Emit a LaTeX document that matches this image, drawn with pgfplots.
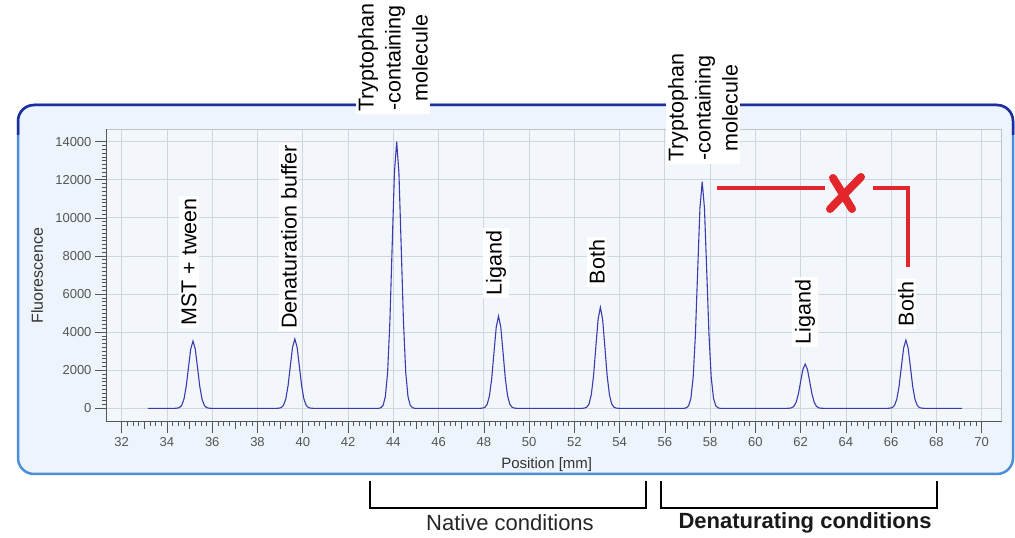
\documentclass[border=0pt]{standalone}
\usepackage{pgfplots}
\pgfplotsset{compat=1.18}
\usepackage{fontspec}
\setmainfont{Liberation Sans}
\definecolor{panelfill}{HTML}{EEF4FB}
\definecolor{plotfill}{HTML}{F3F7FC}
\definecolor{panelblue}{HTML}{4C8FD8}
\definecolor{paneldark}{HTML}{1E2E9E}
\definecolor{curveblue}{HTML}{3B3BAE}
\definecolor{gridgray}{HTML}{D0D6DE}
\definecolor{tickgray}{HTML}{555555}
\definecolor{xred}{HTML}{E3262B}
\begin{document}
\begin{tikzpicture}
\path[use as bounding box] (0,0) rectangle (1015pt,538pt);
\begin{scope}[shift={(0,538pt)}, x=1pt, y=-1pt]
\draw[rounded corners=16pt, fill=panelfill, draw=panelblue, line width=2.5pt] (18,105) rectangle (1013,474);
\draw[rounded corners=16pt, draw=paneldark, line width=2.5pt] (18,135) -- (18,105) -- (1013,105) -- (1013,135);
\end{scope}
\begin{axis}[
  at={(106pt,116.3pt)}, anchor=south west,
  scale only axis, width=895.7pt, height=292.4pt,
  xmin=31.306, xmax=70.884, ymin=-703, ymax=14651,
  xtick={32,34,...,70}, ytick={0,2000,...,14000},
  scaled y ticks=false, scaled x ticks=false,
  minor x tick num=7, minor y tick num=9,
  extra x ticks={33,35,...,69}, extra x tick labels={},
  extra x tick style={grid=none, major tick length=7pt},
  tick align=outside, tick pos=left,
  major tick length=11pt, minor tick length=4pt,
  every tick/.style={draw=tickgray, line width=0.6pt},
  grid=major, major grid style={draw=gridgray, line width=0.8pt},
  axis line style={draw=gridgray!80!gray, line width=0.8pt},
  axis background/.style={fill=plotfill},
  /pgf/number format/assume math mode=true,
  /pgf/number format/1000 sep={},
  ticklabel style={font=\fontsize{13}{15}\selectfont, text=tickgray},
  xticklabel style={yshift=-1pt},
  xlabel={Position [mm]}, ylabel={Fluorescence},
  xlabel style={at={(axis description cs:0.492,-0.148)}, anchor=center, font=\fontsize{15}{18}\selectfont, text=black!80},
  ylabel style={at={(axis description cs:-0.077,0.5)}, anchor=center, font=\fontsize{16}{18}\selectfont, text=black!80},
]
\addplot[color=curveblue, line width=1.1pt] coordinates {
(33.16,0) (34.35,0)
(34.45,8) (34.55,39) (34.65,155) (34.75,478) (34.85,1146) (34.95,2141) (35.05,3115) (35.15,3530) (35.25,3115) (35.35,2141) (35.45,1146) (35.55,478) (35.65,155) (35.75,39) (35.85,8)
(35.95,0) (38.85,0)
(38.95,8) (39.05,40) (39.15,160) (39.25,492) (39.35,1182) (39.45,2208) (39.55,3212) (39.65,3640) (39.75,3212) (39.85,2208) (39.95,1182) (40.05,492) (40.15,160) (40.25,40) (40.35,8)
(40.45,0) (43.35,0)
(43.45,31) (43.55,155) (43.65,615) (43.75,1894) (43.85,4546) (43.95,8491) (44.05,12355) (44.15,14000) (44.25,12355) (44.35,8491) (44.45,4546) (44.55,1894) (44.65,615) (44.75,155) (44.85,31)
(44.95,0) (47.85,0)
(47.95,11) (48.05,54) (48.15,212) (48.25,655) (48.35,1572) (48.45,2935) (48.55,4271) (48.65,4840) (48.75,4271) (48.85,2935) (48.95,1572) (49.05,655) (49.15,212) (49.25,54) (49.35,11)
(49.45,0) (52.35,0)
(52.45,12) (52.55,59) (52.65,233) (52.75,717) (52.85,1721) (52.95,3214) (53.05,4677) (53.15,5300) (53.25,4677) (53.35,3214) (53.45,1721) (53.55,717) (53.65,233) (53.75,59) (53.85,12)
(53.95,0) (56.85,0)
(56.95,26) (57.05,132) (57.15,522) (57.25,1610) (57.35,3864) (57.45,7217) (57.55,10502) (57.65,11900) (57.75,10502) (57.85,7217) (57.95,3864) (58.05,1610) (58.15,522) (58.25,132) (58.35,26)
(58.45,0) (61.4,0)
(61.5,5) (61.6,26) (61.7,102) (61.8,314) (61.9,753) (62.0,1407) (62.1,2047) (62.2,2320) (62.3,2047) (62.4,1407) (62.5,753) (62.6,314) (62.7,102) (62.8,26) (62.9,5)
(63.0,0) (65.85,0)
(65.95,8) (66.05,40) (66.15,157) (66.25,484) (66.35,1162) (66.45,2171) (66.55,3159) (66.65,3580) (66.75,3159) (66.85,2171) (66.95,1162) (67.05,484) (67.15,157) (67.25,40) (67.35,8)
(67.45,0) (69.12,0)
};
\draw[draw=tickgray, line width=0.8pt] (rel axis cs:0,0) -- (rel axis cs:0,1);
\draw[draw=tickgray, line width=0.8pt] (rel axis cs:0,0) -- (rel axis cs:1,0);
\end{axis}
\begin{scope}[shift={(0,538pt)}, x=1pt, y=-1pt,
  lab/.style={fill=white, inner sep=2.5pt, rotate=90, font=\fontsize{21.5}{27}\selectfont, align=center}]
\node[lab] at (189,262) {MST + tween};
\node[lab] at (289,237) {Denaturation buffer};
\node[lab] at (393,58) {Tryptophan\\-containing\\molecule};
\node[lab] at (496,263) {Ligand};
\node[lab] at (597,262) {Both};
\node[lab] at (703,108) {Tryptophan\\-containing\\molecule};
\node[lab] at (805,312) {Ligand};
\node[lab] at (906,304) {Both};
\draw[xred, line width=4pt] (717,188) -- (825,188);
\draw[xred, line width=4pt] (873,188) -- (908,188) -- (908,267);
\draw[xred, line width=8pt, line cap=round] (833,178) -- (852,209);
\draw[xred, line width=8pt, line cap=round] (830,209) -- (861,177);
\draw[black, line width=1.3pt] (370,481) -- (370,508) -- (646,508) -- (646,481);
\draw[black, line width=1.3pt] (661,481) -- (661,508) -- (937,508) -- (937,481);
\node[font=\fontsize{22}{26}\selectfont, text=black!85] at (510,523) {Native conditions};
\node[font=\fontsize{22}{26}\selectfont\bfseries, text=black!90] at (805,523) {Denaturating conditions};
\end{scope}
\end{tikzpicture}
\end{document}
